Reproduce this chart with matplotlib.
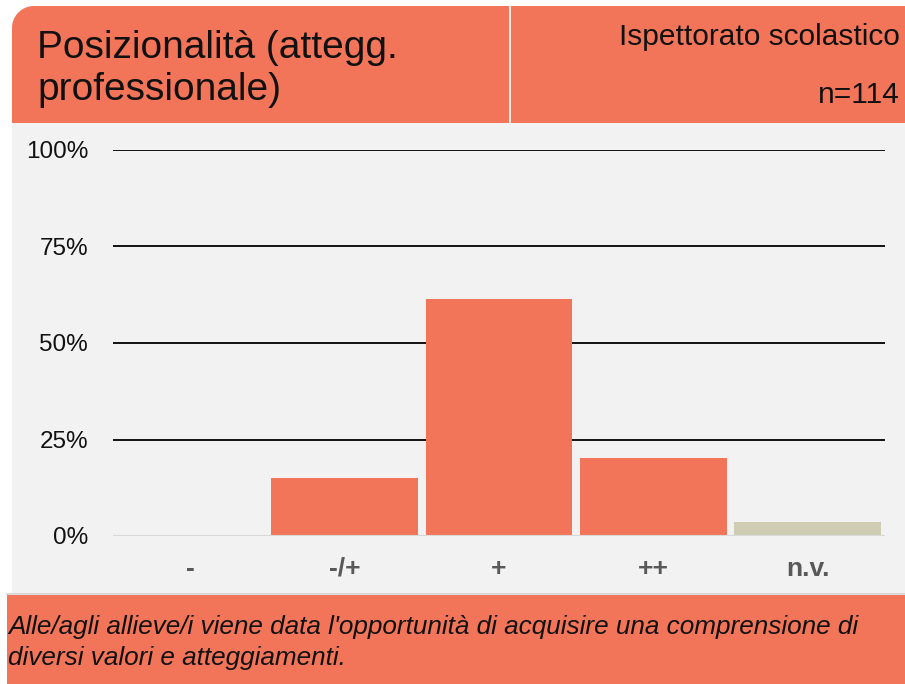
import matplotlib
matplotlib.use("Agg")
import matplotlib.pyplot as plt
from matplotlib.patches import Rectangle, PathPatch
from matplotlib.path import Path
import numpy as np

plt.rcParams['font.family'] = ['Liberation Sans', 'DejaVu Sans']

categories = ['-', '-/+', '+', '++', 'n.v.']
values = [0.0, 14.9, 61.4, 20.2, 3.5]   # percent, n=114
bar_colors = ['#F37559', '#F37559', '#F37559', '#F37559', '#CFCDB4']
yticks = [0, 25, 50, 75, 100]

title_lines = ["Posizionalità (attegg.", "professionale)"]
subtitle = "Ispettorato scolastico"
n_label = "n=114"
footer_lines = ["Alle/agli allieve/i viene data l'opportunità di acquisire una comprensione di",
                "diversi valori e atteggiamenti."]

W, H = 905, 684
orange = '#F37559'
panel = '#F2F2F2'

fig = plt.figure(figsize=(W / 100, H / 100), dpi=100)
fig.patch.set_facecolor('white')


def fx(px):
    return px / W


def fy(py):
    return 1 - py / H


# header band with rounded top-left corner
r = 22
x0, x1, y0, y1 = 12, W, 6, 123
t = np.linspace(np.pi, np.pi / 2, 20)
pts = [(x0, y1), (x0, y0 + r)]
pts += [(x0 + r + r * np.cos(a), y0 + r - r * np.sin(a)) for a in t]
pts += [(x1, y0), (x1, y1), (x0, y1)]
verts = [(fx(px), fy(py)) for px, py in pts]
fig.patches.append(PathPatch(Path(verts), transform=fig.transFigure,
                             facecolor=orange, edgecolor='none', zorder=-2))
# white divider in header
fig.add_artist(plt.Line2D([fx(510), fx(510)], [fy(6), fy(123)],
                          transform=fig.transFigure, color='white', lw=1.2))

# gray panel
fig.patches.append(Rectangle((fx(12), fy(593)), fx(W - 12), (593 - 123) / H,
                             transform=fig.transFigure, facecolor=panel,
                             edgecolor='none', zorder=-2))
fig.add_artist(plt.Line2D([fx(7), fx(W)], [fy(593.5), fy(593.5)],
                          transform=fig.transFigure, color='#DADADA', lw=1.5))
# footer band
fig.patches.append(Rectangle((fx(7), 0), fx(W - 7), (H - 595) / H,
                             transform=fig.transFigure, facecolor=orange,
                             edgecolor='none', zorder=-2))

for i, line in enumerate(title_lines):
    fig.text(fx(37), fy(58 + 42 * i), line, fontsize=28, va='baseline',
             ha='left', color='#111111')
fig.text(fx(900), fy(45), subtitle, fontsize=21.5, ha='right', va='baseline',
         color='#111111')
fig.text(fx(900), fy(103), n_label, fontsize=21.5, ha='right', va='baseline',
         color='#111111')
for i, line in enumerate(footer_lines):
    fig.text(fx(8), fy(634 + 31 * i), line, fontsize=18.8, style='italic',
             ha='left', va='baseline', color='#111111')

# chart axes: x 113..885, y 0%=536, 100%=150
ax = fig.add_axes([fx(113), fy(536), fx(885 - 113), (536 - 150) / H])
ax.set_facecolor('none')
x = np.arange(len(categories))
ax.bar(x, values, width=0.95, color=bar_colors, zorder=3)
ax.set_xlim(-0.5, len(categories) - 0.5)
ax.set_ylim(0, 100)
ax.set_yticks(yticks)
ax.set_yticklabels([f'{v}%' for v in yticks], fontsize=17.5, color='#111111')
for v in yticks[1:]:
    ax.axhline(v, color='black', lw=1.3, zorder=1)
ax.axhline(0, color='#D9D9D9', lw=1.5, zorder=4)
ax.set_xticks(x)
ax.set_xticklabels(categories, fontsize=19, fontweight='bold', color='#595959')
ax.tick_params(axis='y', length=0, pad=18)
ax.tick_params(axis='x', length=0, pad=15)
for s in ax.spines.values():
    s.set_visible(False)

fig.savefig('out.png', dpi=100)
